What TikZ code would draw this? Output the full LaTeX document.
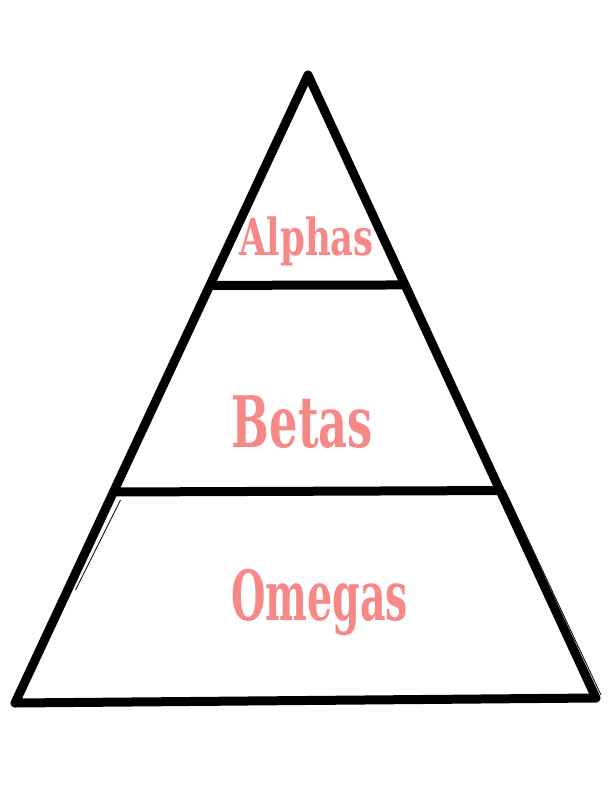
\documentclass[tikz,border=0pt]{standalone}
\usepackage{fontspec}
\usepackage{graphicx}
\usetikzlibrary{calc}
\newfontfamily\slabfont{DejaVu Serif Condensed}[BoldFont={* Bold}]
\definecolor{tierpink}{RGB}{246,136,136}
\tikzset{
  tierline/.style={line width=9pt, line join=round, line cap=round},
  sketchline/.style={line width=0.8pt},
  tierlabel/.style={text=tierpink, anchor=base, inner sep=0pt, font=\slabfont\bfseries}
}

\begin{document}
\begin{tikzpicture}[x=1pt,y=-1pt]
    \useasboundingbox[fill=white] (0,0) rectangle (612,792);
    \coordinate (apex) at (308,75);
    \coordinate (bl) at (15,703);
    \coordinate (br) at (596,698);
    \coordinate (l1) at ($(apex)!0.335!(bl)$);
    \coordinate (r1) at ($(apex)!0.337!(br)$);
    \coordinate (l2) at ($(apex)!0.664!(bl)$);
    \coordinate (r2) at ($(apex)!0.667!(br)$);
    \draw[tierline] (apex) -- (bl) -- (br) -- cycle;
    \draw[tierline] (l1) -- (r1);
    \draw[tierline] (l2) -- (r2);
    \draw[sketchline] ($(l1)+(3,4)$) -- ($(r1)+(-4,0)$);
    \draw[sketchline] ($(l2)+(7,8)$) -- ($(l2)+(-38,98)$);
    \draw[sketchline] ($(r2)+(5,0)$) -- ($(br)+(5,-3)$);
    \node[tierlabel] (alphas) at (306.5,255) {\fontsize{51}{51}\selectfont\scalebox{0.773}[1]{Alphas}};
    \node[tierlabel] (betas) at (302.5,447) {\fontsize{71}{71}\selectfont\scalebox{0.70}[1]{Betas}};
    \node[tierlabel] (omegas) at (319.5,620) {\fontsize{69}{69}\selectfont\scalebox{0.637}[1]{Omegas}};
\end{tikzpicture}
\end{document}
